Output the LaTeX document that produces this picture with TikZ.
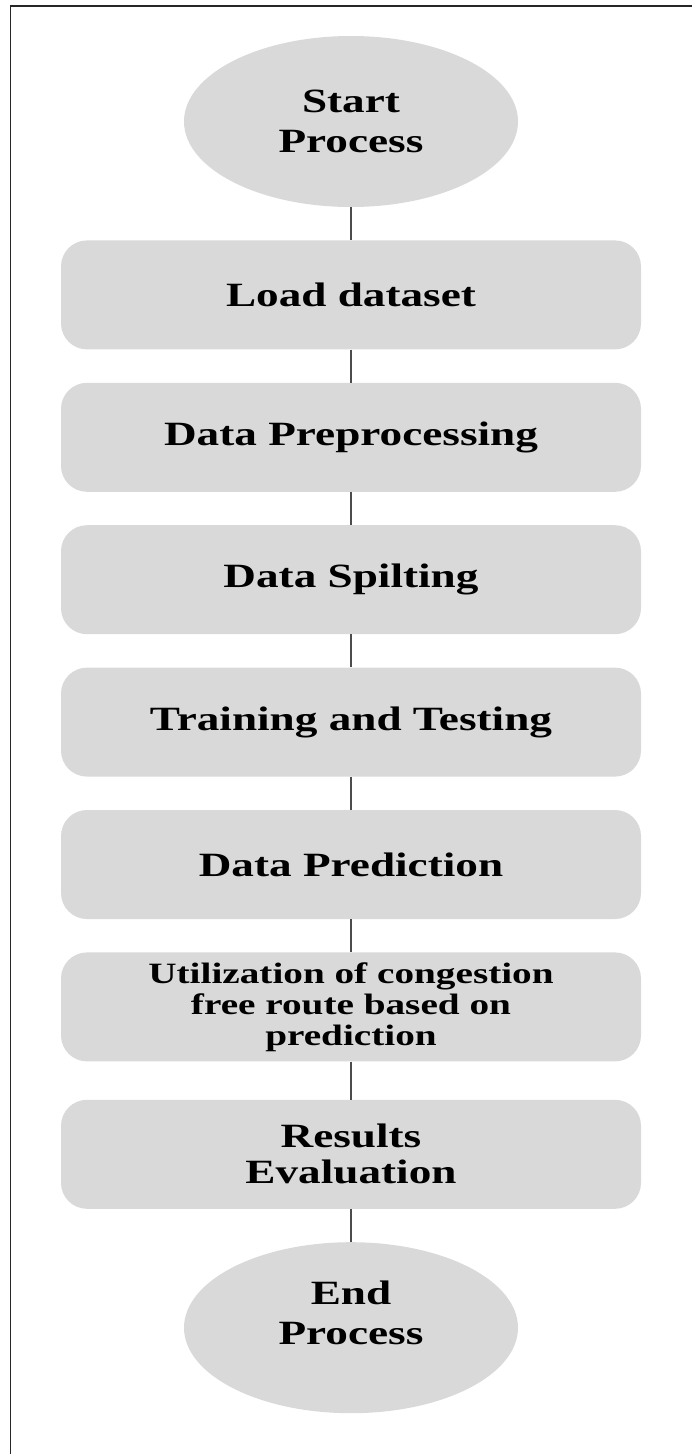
\documentclass[tikz,border=0pt]{standalone}
\usepackage{fontspec}
\setmainfont{Liberation Serif}[FakeStretch=1.33]
\usepackage{tikz}
\usetikzlibrary{arrows,positioning,shapes.geometric}
\tikzset{
    %Define standard arrow tip
    >=stealth',
    %Define style for start and end
    terminal/.style={
           ellipse,
           draw=none,
           minimum width=334pt,
           minimum height=171pt,
           inner sep=0pt,
           font=\fontsize{34}{40}\selectfont\bfseries,
           align=center,
           fill=black!15!white},
    %Define style for boxes
    stage/.style={
           rectangle,
           rounded corners=26pt,
           draw=none,
           minimum width=580pt,
           minimum height=109pt,
           inner sep=0pt,
           font=\fontsize{34}{36}\selectfont\bfseries,
           align=center,
           fill=black!15!white},
    % Define line style
    link/.style={
           -,
           draw=black!70,
           line width=1.2pt},
    frame/.style={ draw=black!85, line width=1.5pt }
}

\begin{document}
\begin{tikzpicture}[x=1pt,y=1pt,node distance=33pt]
\useasboundingbox (0,0) rectangle (692,-1454);
\draw[frame] (10.5,-1454) |- (692,-6);

\node[terminal] (start) at (351,-121.5) {Start\\Process};
\node[stage, below=of start] (load) {Load dataset};
\node[stage, below=of load] (prep) {Data Preprocessing};
\node[stage, below=of prep] (split) {Data Spilting};
\node[stage, below=of split] (train) {Training and Testing};
\node[stage, below=of train] (pred) {Data Prediction};
\node[stage, below=of pred, font=\fontsize{29.5}{31}\selectfont\bfseries] (util) {Utilization of congestion\\free route based on\\prediction};
\node[stage, below=38pt of util] (eval) {Results\\Evaluation};
% extra empty line lifts the text a little
\node[terminal, below=of eval] (finish) {End\\Process\\[-10pt]\mbox{}};

\path[link]
	(start) edge (load)
	(load) edge (prep)
	(prep) edge (split)
	(split) edge (train)
	(train) edge (pred)
	(pred) edge (util)
	(util) edge (eval)
	(eval) edge (finish);
\end{tikzpicture}
\end{document}
